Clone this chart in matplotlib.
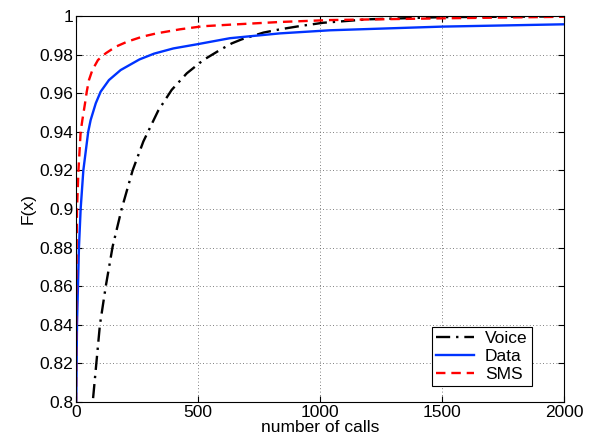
import numpy as np
import matplotlib.pyplot as plt

plt.rcParams['font.family'] = ['Liberation Sans', 'DejaVu Sans']

# values (number of calls, CDF)
voice_x = [70, 98, 122, 150, 187, 232, 276, 337, 392, 454, 522, 590, 638, 679, 768, 836,
           918, 1013, 1200, 1500, 2000]
voice_y = [0.802, 0.84, 0.86, 0.8805, 0.90, 0.92, 0.935, 0.951, 0.9617, 0.9703, 0.9772,
           0.9824, 0.9858, 0.9879, 0.9914, 0.9931, 0.9948, 0.9965, 0.9983, 0.9994, 0.9998]

data_x = [1, 4, 8, 12, 19, 30, 50, 60, 81, 101, 135, 183, 260, 320, 399, 494, 631, 836,
          1041, 1500, 2000]
data_y = [0.8, 0.84, 0.86, 0.88, 0.90, 0.92, 0.94, 0.9461, 0.9548, 0.9608, 0.9668, 0.972,
          0.9775, 0.9805, 0.9832, 0.9853, 0.9885, 0.991, 0.9926, 0.9945, 0.9957]

sms_x = [0, 1, 4, 10, 19, 26, 37, 44, 53, 67, 90, 122, 163, 210, 272, 330, 426, 520, 631,
         836, 1041, 1500, 2000]
sms_y = [0.8, 0.86, 0.90, 0.92, 0.94, 0.9461, 0.9548, 0.9608, 0.9668, 0.972, 0.9772, 0.9807,
         0.9841, 0.9867, 0.9893, 0.991, 0.9931, 0.9947, 0.9955, 0.9969, 0.9979, 0.9988, 0.9996]

fs = 12.5

fig = plt.figure(figsize=(5.99, 4.42), dpi=100)
ax = fig.add_axes([0.1269, 0.0905, 0.8147, 0.8733])

ax.plot(voice_x, voice_y, color='black', linestyle=(0, (6, 2.5, 1, 2.5)), lw=1.7, label='Voice')
ax.plot(data_x, data_y, color='#0033ff', linestyle='-', lw=1.7, label='Data')
ax.plot(sms_x, sms_y, color='#ff0000', linestyle=(0, (4, 2.5)), lw=1.7, label='SMS')

ax.set_xlim(0, 2000)
ax.set_ylim(0.8, 1.0)
ax.set_xticks(np.arange(0, 2001, 500))
ax.set_yticks(np.arange(0.8, 1.0001, 0.02))
ax.set_yticklabels(['0.8', '0.82', '0.84', '0.86', '0.88', '0.9', '0.92', '0.94', '0.96', '0.98', '1'])
ax.tick_params(direction='in', top=True, right=True, labelsize=fs, length=4, pad=2)
ax.grid(True, linestyle=(0, (1, 3)), color='#555555', lw=0.6)
for s in ax.spines.values():
    s.set_linewidth(0.8)

ax.set_xlabel('number of calls', fontsize=fs, labelpad=0)
ax.set_ylabel('F(x)', fontsize=fs, labelpad=3)

leg = ax.legend(loc='lower right', bbox_to_anchor=(0.934, 0.041), borderaxespad=0,
                fontsize=fs, fancybox=False, edgecolor='black', framealpha=1,
                handlelength=2.2, borderpad=0.25, labelspacing=0.15, handletextpad=0.6)
leg.get_frame().set_linewidth(0.8)

fig.savefig('out.png', dpi=100)
